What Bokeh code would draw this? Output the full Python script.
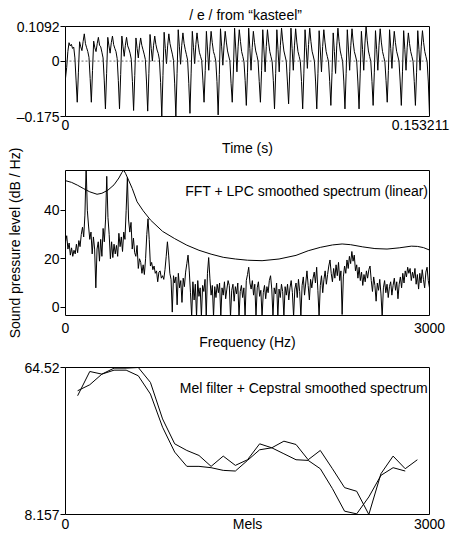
import numpy as np
from bokeh.plotting import figure
from bokeh.layouts import column
from bokeh.models import Range1d, FixedTicker, Label, Span, LinearAxis
from bokeh.embed import file_html
from bokeh.resources import INLINE

FONT = "Liberation Sans"
FS = "14px"

# ---------------- Panel 1: waveform ----------------
t_end = 0.153211
amp_min, amp_max = -0.175, 0.1092
wave_lead = [-0.054, -0.020, 0.030, 0.058, 0.048, 0.053, 0.040, 0.044, 0.010, -0.060]
wave_periods = [
    [-0.130, -0.035, 0.061, 0.045, 0.033, 0.062, 0.086, 0.055, 0.042, 0.030, 0.012, -0.055],
    [-0.130, -0.030, 0.063, 0.042, 0.030, 0.055, 0.075, 0.050, 0.045, 0.028, 0.010, -0.060],
    [-0.151, -0.040, 0.075, 0.048, 0.025, 0.058, 0.079, 0.052, 0.040, 0.030, 0.008, -0.062],
    [-0.151, -0.042, 0.079, 0.045, 0.015, 0.050, 0.075, 0.048, 0.038, 0.025, 0.006, -0.065],
    [-0.156, -0.045, 0.073, 0.040, 0.010, 0.048, 0.073, 0.050, 0.036, 0.022, 0.005, -0.066],
    [-0.158, -0.040, 0.084, 0.040, 0.000, 0.050, 0.079, 0.052, 0.035, 0.024, 0.004, -0.068],
    [-0.175, -0.045, 0.091, 0.040, -0.008, 0.048, 0.086, 0.055, 0.038, 0.022, 0.002, -0.072],
    [-0.175, -0.040, 0.099, 0.045, -0.010, 0.050, 0.089, 0.056, 0.036, 0.020, 0.003, -0.070],
    [-0.165, -0.038, 0.094, 0.042, -0.008, 0.052, 0.089, 0.055, 0.028, 0.015, 0.002, -0.060],
    [-0.130, -0.030, 0.094, 0.035, -0.029, 0.045, 0.094, 0.058, 0.030, 0.018, 0.000, -0.065],
    [-0.170, -0.042, 0.102, 0.045, -0.013, 0.048, 0.094, 0.060, 0.032, 0.016, 0.001, -0.070],
    [-0.130, -0.028, 0.104, 0.038, -0.034, 0.045, 0.099, 0.062, 0.030, 0.015, -0.002, -0.062],
    [-0.140, -0.035, 0.104, 0.040, -0.029, 0.042, 0.094, 0.058, 0.032, 0.018, 0.000, -0.065],
    [-0.130, -0.030, 0.099, 0.035, -0.034, 0.046, 0.099, 0.060, 0.030, 0.014, -0.002, -0.062],
    [-0.151, -0.040, 0.099, 0.036, -0.034, 0.050, 0.104, 0.063, 0.032, 0.016, 0.000, -0.066],
    [-0.135, -0.032, 0.104, 0.040, -0.029, 0.048, 0.102, 0.060, 0.030, 0.015, -0.001, -0.064],
    [-0.151, -0.038, 0.099, 0.042, -0.023, 0.052, 0.104, 0.062, 0.031, 0.016, 0.000, -0.066],
    [-0.151, -0.040, 0.096, 0.035, -0.034, 0.046, 0.099, 0.060, 0.030, 0.014, -0.002, -0.064],
    [-0.140, -0.036, 0.089, 0.030, -0.039, 0.048, 0.104, 0.062, 0.032, 0.015, -0.001, -0.063],
    [-0.151, -0.040, 0.099, 0.038, -0.029, 0.050, 0.102, 0.060, 0.030, 0.016, 0.000, -0.066],
    [-0.151, -0.038, 0.094, 0.036, -0.029, 0.054, 0.109, 0.064, 0.032, 0.015, -0.001, -0.064],
    [-0.140, -0.035, 0.096, 0.036, -0.029, 0.050, 0.102, 0.060, 0.030, 0.014, -0.002, -0.062],
    [-0.130, -0.030, 0.099, 0.040, -0.023, 0.046, 0.094, 0.058, 0.031, 0.016, 0.000, -0.063],
    [-0.140, -0.034, 0.096, 0.036, -0.029, 0.044, 0.089, 0.055, 0.030, 0.015, -0.001, -0.064],
    [-0.140, -0.035, 0.096, 0.037, -0.029, 0.047, 0.096, 0.058, 0.030, 0.014, -0.002, -0.066],
]
wave_tail = [-0.170]
wave = wave_lead + [v for per in wave_periods for v in per] + wave_tail
wave_t = np.linspace(0, t_end, len(wave))

# ---------------- Panel 2: spectrum ----------------
spec_step_hz = 10
spec_db = [
    27.0, 29.5, 24.0, 26.5, 21.5, 24.5, 21.0, 23.5, 22.0, 26.0,
    22.5, 27.5, 25.0, 30.0, 33.0, 29.0, 38.0, 58.0, 40.0, 33.5,
    28.0, 31.0, 22.0, 29.0, 24.0, 8.0, 24.0, 27.0, 19.0, 28.0,
    21.0, 32.5, 27.0, 36.0, 54.0, 37.0, 30.0, 20.0, 27.0, 20.5,
    26.0, 22.0, 25.5, 21.0, 30.5, 25.0, 29.0, 23.0, 31.0, 28.0,
    40.0, 53.5, 36.0, 31.0, 35.0, 24.0, 28.5, 22.5, 21.0, 25.5,
    16.0, 20.0, 18.5, 14.0, 17.5, 13.5, 20.0, 30.0, 36.5, 28.0,
    17.0, 18.5, 15.5, 17.0, 14.0, 15.0, 10.5, 14.5, 15.0, 12.0,
    13.0, 11.5, 15.5, 21.0, 27.0, 21.5, 14.0, 11.5, -2.0, 13.0,
    10.0, 12.5, 1.0, 14.0, 8.0, 11.0, 2.0, 12.0, 8.5, 14.5,
    18.0, 21.5, 15.0, 6.0, -4.0, 10.5, 3.0, 9.5, -4.0, 11.0,
    4.5, 8.0, -4.0, 9.0, 6.5, 11.5, -4.0, 14.0, 20.5, 12.0,
    5.0, 9.0, -4.0, 8.5, 4.0, 9.5, 6.0, 10.0, -4.0, 8.0,
    5.0, 10.5, 3.5, 7.5, 11.0, 9.0, -4.0, 7.0, 9.5, 2.5,
    8.5, 5.5, 10.0, -4.0, 6.5, 9.0, 4.0, 8.0, -4.0, 11.0,
    13.5, 16.5, 10.0, 7.5, 11.0, 5.0, 9.5, -4.0, 8.0, 10.5,
    4.5, 7.0, -4.0, 6.0, 9.0, 3.5, 8.5, 6.0, 11.0, 13.0,
    7.5, -4.0, 8.0, 5.5, 10.0, -4.0, 7.5, 4.0, 9.5, 6.5,
    -4.0, 8.5, 5.0, 9.5, 3.0, 8.0, 11.0, 6.0, -4.0, 7.5,
    10.0, 4.0, 11.5, 6.5, -4.0, 9.0, 12.5, 5.0, 10.0, 15.0,
    9.0, 3.0, 11.5, 8.0, 12.0, 14.5, 10.0, 16.5, 7.0, -4.0,
    9.0, 13.0, 6.0, 11.5, 15.0, 9.5, 13.5, 17.0, 19.5, 14.0,
    10.5, 16.0, 12.0, 17.5, 13.0, 18.5, 11.0, 15.0, -3.0, 12.5,
    17.0, 14.0, 19.5, 16.0, 21.0, 18.0, 23.0, 19.0, 21.5, 15.0,
    17.5, 12.0, 16.5, 11.0, 14.5, 9.0, 13.5, 10.5, 15.0, 12.0,
    15.5, 17.0, 11.0, 6.5, 12.5, 9.0, 2.5, 10.0, 7.0, 11.5,
    5.5, -4.0, 8.0, 11.0, 6.0, 9.5, 4.0, 8.5, 10.5, 5.0,
    9.0, 12.0, 7.0, 10.5, 3.5, 9.5, 12.5, 8.0, 14.0, 10.0,
    15.0, 12.5, 16.5, 14.0, 16.0, 11.0, 14.5, 12.0, 16.0, 9.5,
    13.5, 7.5, 14.0, 10.0, 15.5, 11.5, 8.0, 14.5, 16.5, 11.0,
    8.0,
]
spec_hz = np.arange(len(spec_db)) * spec_step_hz

lpc_hz = [0, 50, 100, 150, 200, 260, 300, 350, 400, 440, 465, 480, 495, 520, 550,
          590, 640, 700, 800, 900, 1000, 1100, 1200, 1300, 1400, 1500, 1620, 1760,
          1900, 2000, 2100, 2200, 2280, 2350, 2450, 2550, 2650, 2750, 2850, 2900,
          2950, 3000]
lpc_db = [52.2, 51.5, 50.3, 48.9, 47.6, 46.6, 47.0, 48.3, 50.5, 53.3, 55.6, 56.5,
          55.2, 52.4, 49.0, 43.5, 39.8, 36.0, 31.3, 28.3, 25.6, 23.5, 21.9, 20.6,
          19.9, 19.4, 19.2, 19.9, 21.4, 23.3, 24.7, 25.7, 26.1, 25.8, 24.9, 24.2,
          24.0, 24.5, 25.2, 25.1, 24.6, 23.6]

# ---------------- Panel 3: mel filter / cepstral ----------------
mel_filter_x = [100, 200, 300, 400, 500, 600, 700, 800, 900, 1000, 1100, 1200, 1300,
                1400, 1500, 1600, 1700, 1800, 1900, 2000, 2100, 2200, 2300, 2400,
                2500, 2600, 2700, 2800, 2900]
mel_filter_db = [53.70, 62.99, 61.98, 64.27, 64.27, 64.52, 58.80, 44.80, 35.26, 32.71,
                 30.80, 26.61, 30.55, 26.99, 29.15, 35.26, 33.73, 36.27, 35.00, 29.15,
                 32.71, 25.71, 18.46, 17.06, 8.157, 23.81, 30.55, 25.71, 29.15]
cepstral_x = [100, 200, 300, 400, 500, 600, 700, 800, 900, 1000, 1100, 1200, 1300,
              1400, 1500, 1600, 1700, 1800, 1900, 2000, 2100, 2200, 2300, 2400,
              2500, 2600, 2700, 2800]
cepstral_db = [55.61, 57.90, 61.98, 63.50, 63.50, 61.34, 54.34, 41.62, 32.08, 26.61,
               26.61, 26.10, 25.08, 24.82, 28.90, 32.97, 33.73, 31.44, 29.15, 28.90,
               25.71, 18.08, 9.43, 8.40, 14.90, 23.17, 26.10, 24.82]
mel_min, mel_max = 8.157, 64.52

W = 460
LEFT, RIGHT = 65, 31


def make_fig(h, top, bottom, xr, yr):
    p = figure(width=W, height=h, x_range=xr, y_range=yr,
               output_backend="svg", toolbar_location=None,
               min_border_left=LEFT, min_border_right=RIGHT,
               min_border_top=top, min_border_bottom=bottom)
    p.outline_line_color = "black"
    p.outline_line_width = 1
    p.xgrid.visible = False
    p.ygrid.visible = False
    p.background_fill_color = "white"
    p.border_fill_color = "white"
    return p


def text_style(a):
    a.major_label_text_font = FONT
    a.major_label_text_font_size = FS
    a.major_label_text_color = "black"
    a.axis_label_text_font = FONT
    a.axis_label_text_font_size = FS
    a.axis_label_text_font_style = "normal"
    a.axis_label_text_color = "black"


def style_axes(p, yticks, ylabels, xticks, xlabels, xstand):
    ay = p.left[0]
    ay.ticker = FixedTicker(ticks=yticks)
    ay.major_label_overrides = dict(zip(yticks, ylabels))
    ay.major_tick_out = 5
    ay.major_tick_in = 0
    ay.minor_tick_line_color = None
    ay.axis_line_color = None
    ay.major_tick_line_color = "black"
    ay.major_label_standoff = 1
    ax = p.below[0]
    ax.ticker = FixedTicker(ticks=xticks)
    ax.major_label_overrides = dict(zip(xticks, xlabels))
    ax.major_tick_out = 0
    ax.major_tick_in = 0
    ax.major_tick_line_color = None
    ax.minor_tick_line_color = None
    ax.axis_line_color = None
    ax.major_label_standoff = xstand
    text_style(ax)
    text_style(ay)
    return ax, ay


def lab(p, x, y, text, align="left"):
    p.add_layout(Label(x=x, y=y, text=text, text_align=align,
                       text_baseline="alphabetic", text_font=FONT,
                       text_font_size=FS, text_color="black"))


# Panel 1 (waveform)
p1 = make_fig(136, 25, 20, Range1d(0, t_end), Range1d(amp_min, amp_max))
t_label_pos = 0.14943   # right-hand time label pulled in to stay on the page, as in the reference
style_axes(p1, [amp_min, 0, amp_max], ["\u20130.175", "0", "0.1092"],
           [0, t_label_pos], ["0", "0.153211"], 3)
p1.title.text = "/ e /  from \u201ckasteel\u201d"
p1.title.align = "center"
p1.title.text_font = FONT
p1.title.text_font_size = FS
p1.title.text_font_style = "normal"
p1.title.text_color = "black"
p1.title.standoff = 8
p1.add_layout(Span(location=0, dimension="width", line_color="#444444",
                   line_dash="2 2", line_width=0.8))
p1.line(wave_t, wave, line_color="black", line_width=1)

# Panel 2 (spectrum); the waveform's "Time (s)" caption sits in this canvas's top margin
p2 = make_fig(218, 32, 39, Range1d(0, 3000), Range1d(-3.4, 56.4))
freq_axis, spl_axis = style_axes(p2, [0, 20, 40], ["0", "20", "40"], [0, 3000], ["0", "3000"], 7)
freq_axis.axis_label = "Frequency (Hz)"
freq_axis.axis_label_standoff = -2
spl_axis.axis_label = "Sound pressure level (dB / Hz)"
spl_axis.axis_label_standoff = 18
time_axis = LinearAxis(ticker=FixedTicker(ticks=[]), axis_label="Time (s)",
                       axis_line_color=None, major_tick_line_color=None,
                       minor_tick_line_color=None, major_tick_out=0, major_tick_in=0,
                       major_label_standoff=0, axis_label_standoff=15)
text_style(time_axis)
p2.add_layout(time_axis, "above")
p2.line(spec_hz, spec_db, line_color="black", line_width=1)
p2.line(lpc_hz, lpc_db, line_color="black", line_width=1)
lab(p2, 2990, 48.06, "FFT + LPC smoothed spectrum (linear)", "right")

# Panel 3 (mel)
p3 = make_fig(180, 13, 20, Range1d(0, 3000), Range1d(mel_min, mel_max))
mel_axis, _ = style_axes(p3, [mel_min, mel_max], ["8.157", "64.52"], [0, 3000], ["0", "3000"], 4)
mel_axis.axis_label = "Mels"
mel_axis.axis_label_standoff = -16
p3.line(mel_filter_x, mel_filter_db, line_color="black", line_width=1)
p3.line(cepstral_x, cepstral_db, line_color="black", line_width=1)
lab(p3, 2985, 56.55, "Mel filter + Cepstral smoothed spectrum", "right")

layout = column(p1, p2, p3)
with open("out.html", "w", encoding="utf-8") as f:
    f.write(file_html(layout, INLINE))
